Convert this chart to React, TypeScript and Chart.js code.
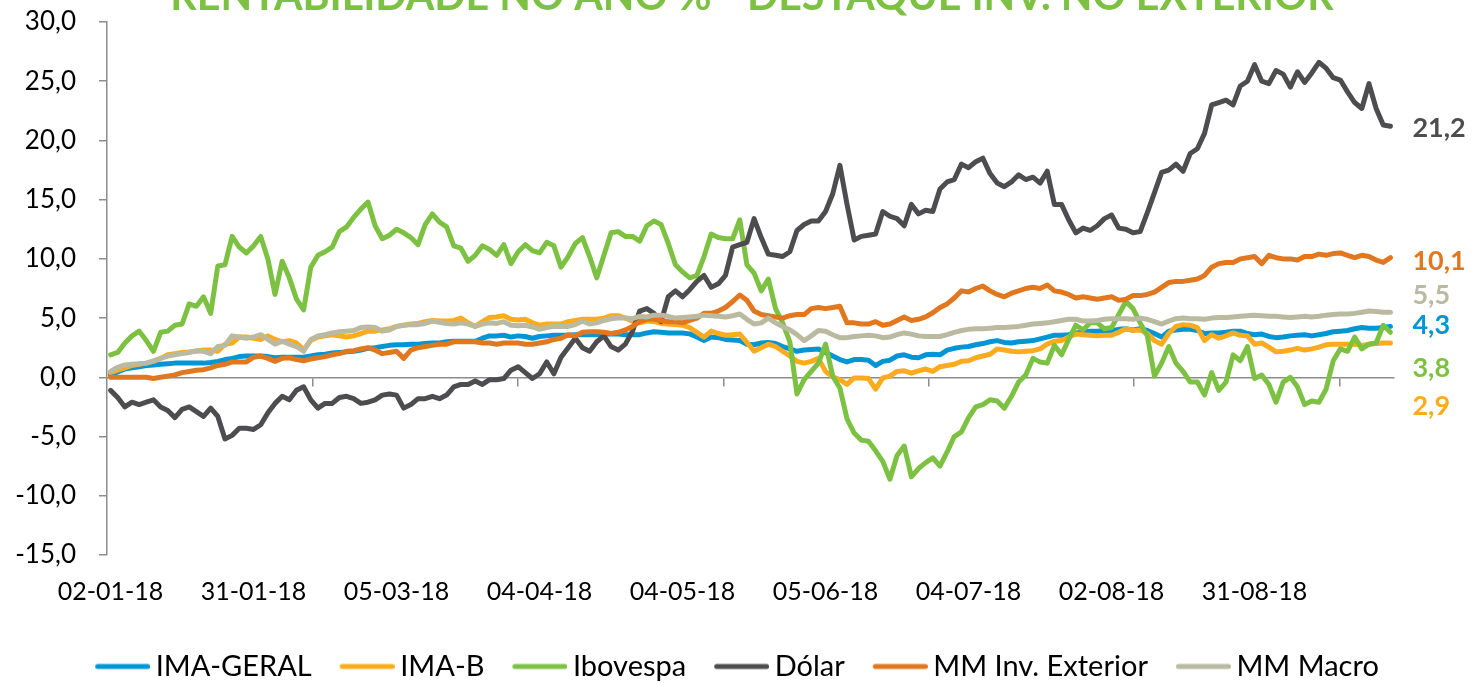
import React, { useEffect, useRef } from 'react';
import { Chart, registerables } from 'chart.js';

Chart.register(...registerables);

const titleText = 'RENTABILIDADE NO ANO % - DESTAQUE INV. NO EXTERIOR';
const seriesNames = ['IMA-GERAL', 'IMA-B', 'Ibovespa', 'Dólar', 'MM Inv. Exterior', 'MM Macro'];
const seriesColors = ['#0096D6', '#FCAB1F', '#7CC142', '#4D4D4F', '#E1771E', '#B9BAA0'];

const xTickLabels = ['02-01-18', '31-01-18', '05-03-18', '04-04-18', '04-05-18', '05-06-18', '04-07-18', '02-08-18', '31-08-18'];
const xTickIndex = [0, 20, 40, 60, 80, 100, 120, 140, 160];
const zeroAxisTicks = [28.23, 56.96, 85.69, 114.42, 143.15, 171.88];
// vertical anchor (in % units) of the end-of-series value labels
const endLabelAnchor = [4.4, -2.45, 0.75, 21.0, 9.8, 6.95];

const imaGeral = [
  0.2, 0.45, 0.7, 0.8, 0.9, 1.0, 1.05, 1.1, 1.15, 1.2,
  1.2, 1.2, 1.2, 1.2, 1.25, 1.35, 1.5, 1.6, 1.75, 1.8,
  1.8, 1.8, 1.75, 1.65, 1.7, 1.7, 1.7, 1.7, 1.8, 1.9,
  1.95, 2.05, 2.1, 2.15, 2.2, 2.3, 2.45, 2.5, 2.6, 2.7,
  2.75, 2.75, 2.8, 2.8, 2.85, 2.9, 2.9, 3.0, 3.05, 3.05,
  3.05, 3.05, 3.3, 3.5, 3.5, 3.55, 3.4, 3.5, 3.45, 3.3,
  3.45, 3.5, 3.55, 3.55, 3.55, 3.6, 3.6, 3.6, 3.6, 3.65,
  3.67, 3.65, 3.6, 3.6, 3.6, 3.75, 3.85, 3.8, 3.75, 3.75,
  3.75, 3.67, 3.4, 3.1, 3.4, 3.35, 3.2, 3.15, 3.1, 2.8,
  2.75, 2.9, 2.95, 2.85, 2.6, 2.4, 2.2, 2.3, 2.35, 2.4,
  2.1, 1.8, 1.5, 1.3, 1.5, 1.5, 1.45, 1.0, 1.35, 1.45,
  1.8, 1.9, 1.7, 1.65, 1.9, 1.95, 1.9, 2.3, 2.45, 2.55,
  2.6, 2.75, 2.85, 3.0, 3.1, 2.95, 2.9, 3.0, 3.05, 3.1,
  3.25, 3.4, 3.55, 3.55, 3.6, 3.75, 3.8, 3.9, 3.9, 3.95,
  3.95, 4.05, 4.1, 4.0, 4.1, 3.95, 3.7, 3.4, 3.9, 4.0,
  4.05, 4.05, 3.95, 3.7, 3.75, 3.75, 3.8, 3.9, 3.9, 3.7,
  3.6, 3.65, 3.45, 3.35, 3.4, 3.5, 3.55, 3.6, 3.5, 3.6,
  3.7, 3.85, 3.9, 3.95, 4.1, 4.2, 4.15, 4.15, 4.2, 4.3,
];

const imaB = [
  0.4, 0.6, 0.8, 1.0, 1.1, 1.2, 1.35, 1.6, 1.9, 2.0,
  2.1, 2.15, 2.2, 2.3, 2.3, 2.2, 2.8, 2.9, 3.4, 3.4,
  3.3, 3.2, 3.5, 3.2, 3.0, 3.1, 2.9, 2.35, 3.1, 3.4,
  3.5, 3.6, 3.5, 3.4, 3.5, 3.7, 3.9, 3.9, 4.0, 4.1,
  4.3, 4.4, 4.5, 4.55, 4.7, 4.8, 4.75, 4.75, 4.8, 5.0,
  4.6, 4.3, 4.7, 5.05, 5.1, 5.2, 4.9, 4.85, 4.9, 4.6,
  4.4, 4.5, 4.5, 4.5, 4.7, 4.8, 4.9, 4.9, 4.9, 5.0,
  5.2, 5.2, 5.0, 4.75, 4.6, 4.75, 4.7, 4.55, 4.5, 4.45,
  4.4, 4.2, 3.8, 3.4, 3.9, 3.7, 3.55, 3.6, 3.65, 2.95,
  2.2, 2.5, 2.8, 2.6, 2.2, 1.8, 1.35, 1.2, 1.35, 1.6,
  0.5, 0.05, -0.2, -0.6, -0.05, -0.05, -0.1, -1.0, -0.05, 0.1,
  0.5, 0.55, 0.35, 0.55, 0.7, 0.5, 0.9, 1.0, 1.1, 1.35,
  1.4, 1.65, 1.8, 1.95, 2.4, 2.3, 2.2, 2.15, 2.2, 2.25,
  2.4, 2.8, 3.05, 3.1, 3.4, 3.65, 3.6, 3.55, 3.5, 3.55,
  3.55, 3.8, 4.1, 3.95, 4.0, 3.7, 3.1, 2.8, 3.7, 4.3,
  4.45, 4.4, 4.2, 3.1, 3.6, 3.3, 3.5, 3.75, 3.55, 3.5,
  2.8, 2.9, 2.55, 2.15, 2.2, 2.3, 2.45, 2.3, 2.4, 2.55,
  2.75, 2.8, 2.8, 2.8, 2.8, 2.7, 2.8, 2.85, 2.9, 2.9,
];

const ibovespa = [
  1.9, 2.1, 2.9, 3.5, 3.9, 3.1, 2.2, 3.8, 3.9, 4.4,
  4.5, 6.2, 6.0, 6.8, 5.4, 9.4, 9.5, 11.9, 11.0, 10.5,
  11.1, 11.9, 10.0, 7.0, 9.8, 8.4, 6.6, 5.7, 9.3, 10.3,
  10.6, 11.0, 12.3, 12.7, 13.5, 14.2, 14.8, 12.8, 11.7, 12.0,
  12.5, 12.2, 11.8, 11.2, 12.9, 13.8, 13.1, 12.7, 11.1, 10.9,
  9.8, 10.3, 11.1, 10.8, 10.3, 11.2, 9.6, 10.6, 11.2, 10.7,
  10.5, 11.4, 11.1, 9.3, 10.2, 11.3, 11.8, 10.2, 8.4, 10.3,
  12.2, 12.3, 11.9, 11.9, 11.5, 12.8, 13.2, 12.9, 11.3, 9.5,
  8.9, 8.4, 8.6, 10.2, 12.1, 11.8, 11.7, 11.7, 13.3, 9.5,
  8.8, 7.3, 8.3, 5.8, 4.6, 3.0, -1.4, -0.2, 0.5, 1.2,
  2.8, 0.1, -0.9, -3.5, -4.7, -5.3, -5.4, -6.2, -7.1, -8.6,
  -6.6, -5.8, -8.4, -7.7, -7.2, -6.8, -7.5, -6.3, -5.0, -4.6,
  -3.4, -2.5, -2.3, -1.9, -2.0, -2.6, -1.6, -0.4, 0.2, 1.6,
  1.3, 1.2, 2.7, 1.9, 3.2, 4.4, 4.0, 4.6, 4.6, 4.1,
  4.2, 5.3, 6.4, 5.8, 4.6, 3.5, 0.1, 1.2, 2.6, 1.2,
  0.5, -0.4, -0.4, -1.5, 0.4, -1.1, -0.4, 1.9, 1.4, 2.6,
  -0.1, 0.2, -0.6, -2.1, -0.4, 0.0, -0.8, -2.3, -2.0, -2.1,
  -1.0, 1.4, 2.4, 2.2, 3.4, 2.4, 2.8, 2.9, 4.4, 3.8,
];

const dolar = [
  -1.1, -1.7, -2.5, -2.1, -2.3, -2.1, -1.9, -2.5, -2.8, -3.4,
  -2.7, -2.5, -2.9, -3.3, -2.6, -3.3, -5.2, -4.9, -4.3, -4.3,
  -4.4, -4.0, -3.0, -2.2, -1.6, -1.9, -1.1, -0.8, -1.9, -2.6,
  -2.2, -2.2, -1.7, -1.6, -1.8, -2.2, -2.1, -1.9, -1.5, -1.4,
  -1.5, -2.6, -2.3, -1.8, -1.8, -1.6, -1.8, -1.5, -0.8, -0.6,
  -0.6, -0.3, -0.6, -0.2, -0.2, -0.1, 0.6, 0.9, 0.4, -0.1,
  0.3, 1.3, 0.3, 1.7, 2.5, 3.3, 2.5, 2.2, 3.0, 3.5,
  2.6, 2.3, 2.8, 3.9, 5.6, 5.8, 5.4, 4.7, 6.8, 7.3,
  6.8, 7.4, 8.1, 8.6, 7.6, 7.9, 8.6, 11.0, 11.2, 11.4,
  13.4, 11.8, 10.4, 10.3, 10.2, 10.6, 12.4, 12.9, 13.2, 13.2,
  14.0, 15.5, 17.9, 14.6, 11.6, 11.9, 12.0, 12.1, 14.0, 13.6,
  13.4, 12.8, 14.6, 13.8, 14.1, 14.0, 15.9, 16.5, 16.7, 18.0,
  17.7, 18.2, 18.5, 17.2, 16.4, 16.1, 16.5, 17.1, 16.7, 16.9,
  16.4, 17.4, 14.6, 14.6, 13.3, 12.2, 12.6, 12.4, 12.8, 13.4,
  13.7, 12.6, 12.5, 12.2, 12.3, 13.9, 15.6, 17.3, 17.5, 18.0,
  17.4, 18.9, 19.3, 20.6, 23.0, 23.2, 23.4, 23.0, 24.6, 25.0,
  26.4, 25.0, 24.8, 25.9, 25.6, 24.5, 25.8, 24.9, 25.7, 26.6,
  26.1, 25.3, 25.1, 24.1, 23.2, 22.7, 24.8, 22.7, 21.3, 21.2,
];

const mmInvExterior = [
  0.0, 0.0, 0.0, 0.0, 0.0, 0.0, -0.1, 0.0, 0.1, 0.2,
  0.4, 0.5, 0.6, 0.65, 0.8, 1.0, 1.1, 1.3, 1.3, 1.3,
  1.7, 1.8, 1.6, 1.35, 1.6, 1.65, 1.5, 1.4, 1.55, 1.65,
  1.75, 1.9, 2.0, 2.2, 2.25, 2.4, 2.5, 2.3, 2.0, 2.1,
  2.2, 1.6, 2.3, 2.5, 2.6, 2.7, 2.8, 2.8, 3.0, 3.0,
  3.0, 3.0, 2.9, 2.9, 2.8, 2.9, 2.9, 2.9, 2.8, 2.8,
  2.9, 3.0, 3.2, 3.3, 3.6, 3.5, 3.8, 3.85, 3.85, 3.8,
  3.7, 3.8, 4.0, 4.3, 4.7, 4.9, 4.9, 4.8, 4.7, 4.7,
  4.6, 4.8, 5.0, 5.4, 5.4, 5.6, 5.9, 6.4, 6.95, 6.5,
  5.6, 5.3, 5.2, 5.1, 5.0, 5.2, 5.3, 5.3, 5.8, 5.9,
  5.8, 5.9, 6.0, 4.6, 4.6, 4.5, 4.5, 4.7, 4.4, 4.5,
  4.8, 5.1, 4.8, 4.9, 5.1, 5.45, 5.9, 6.2, 6.7, 7.3,
  7.2, 7.5, 7.7, 7.3, 7.0, 6.8, 7.1, 7.3, 7.5, 7.6,
  7.5, 7.8, 7.3, 7.2, 7.0, 6.7, 6.8, 6.7, 6.6, 6.7,
  6.8, 6.5, 6.6, 6.9, 6.9, 7.0, 7.2, 7.6, 8.0, 8.1,
  8.1, 8.2, 8.3, 8.6, 9.3, 9.6, 9.7, 9.7, 10.0, 10.1,
  10.2, 9.6, 10.3, 10.1, 10.0, 10.0, 9.9, 10.2, 10.2, 10.4,
  10.3, 10.45, 10.5, 10.3, 10.1, 10.3, 10.2, 9.9, 9.7, 10.1,
];

const mmMacro = [
  0.5, 0.85, 1.05, 1.1, 1.15, 1.2, 1.4, 1.6, 1.8, 1.9,
  2.0, 2.1, 2.25, 2.2, 2.0, 2.6, 2.7, 3.5, 3.4, 3.3,
  3.4, 3.6, 3.2, 2.8, 3.05, 2.8, 2.6, 2.2, 3.2, 3.5,
  3.6, 3.75, 3.85, 3.9, 3.95, 4.2, 4.25, 4.2, 3.9, 4.0,
  4.3, 4.4, 4.45, 4.45, 4.55, 4.75, 4.65, 4.55, 4.5, 4.6,
  4.5, 4.3, 4.5, 4.6, 4.55, 4.7, 4.4, 4.35, 4.4, 4.25,
  4.05, 4.2, 4.3, 4.3, 4.3, 4.45, 4.75, 4.5, 4.6, 4.8,
  4.95, 5.0, 5.0, 4.95, 5.15, 5.1, 5.25, 5.25, 5.15, 5.0,
  5.05, 5.1, 5.15, 5.25, 5.2, 5.15, 5.1, 5.2, 5.35, 4.9,
  4.5, 4.6, 5.0, 4.6, 4.3, 4.0, 3.6, 3.1, 3.5, 3.95,
  3.9, 3.6, 3.35, 3.35, 3.45, 3.5, 3.55, 3.5, 3.35, 3.4,
  3.6, 3.75, 3.65, 3.5, 3.45, 3.45, 3.45, 3.6, 3.8, 3.95,
  4.05, 4.1, 4.1, 4.15, 4.2, 4.2, 4.25, 4.3, 4.4, 4.5,
  4.55, 4.6, 4.7, 4.8, 4.9, 4.9, 4.75, 4.75, 4.8, 4.9,
  4.95, 4.95, 4.95, 4.9, 5.0, 4.9, 4.7, 4.5, 4.75, 4.95,
  5.0, 4.95, 4.95, 4.9, 5.0, 5.05, 5.05, 5.1, 5.15, 5.2,
  5.25, 5.2, 5.15, 5.15, 5.1, 5.05, 5.1, 5.15, 5.1, 5.15,
  5.25, 5.3, 5.35, 5.35, 5.4, 5.5, 5.6, 5.55, 5.5, 5.5,
];

const allSeries = [imaGeral, imaB, ibovespa, dolar, mmInvExterior, mmMacro];

const FONT = 'Lato';
const AXIS_GRAY = '#8C8C8C';
const fmt = (v: number) => v.toFixed(1).replace('.', ',');

// legend marker: a thick rounded line, drawn so it sits close to its text
function makeLegendMark(color: string): HTMLCanvasElement {
  const c = document.createElement('canvas');
  c.width = 64;
  c.height = 8;
  const g = c.getContext('2d')!;
  g.strokeStyle = color;
  g.lineWidth = 5;
  g.lineCap = 'round';
  g.beginPath();
  g.moveTo(11.5, 4);
  g.lineTo(61.5, 4);
  g.stroke();
  return c;
}

const overlayPlugin = {
  id: 'overlay',
  afterDraw(chart: any) {
    const { ctx, scales } = chart;
    const x = scales.x;
    const y = scales.y;
    ctx.save();
    // title (partly cut by the top edge, as in the reference)
    let size = 38;
    ctx.font = `bold ${size}px ${FONT}`;
    const w = ctx.measureText(titleText).width;
    size = (size * 1164) / w;
    ctx.font = `bold ${size}px ${FONT}`;
    ctx.fillStyle = seriesColors[2];
    ctx.textAlign = 'center';
    ctx.textBaseline = 'alphabetic';
    ctx.fillText(titleText, 752, 10);
    // end-of-series value labels
    ctx.font = `bold 27px ${FONT}`;
    ctx.textAlign = 'left';
    ctx.textBaseline = 'middle';
    chart.data.datasets.forEach((ds: any, k: number) => {
      const data = ds.data as number[];
      const last = data[data.length - 1];
      const px = x.getPixelForValue(data.length - 1) + 22;
      const py = y.getPixelForValue(endLabelAnchor[k]);
      ctx.fillStyle = seriesColors[k];
      ctx.fillText(fmt(last), px, py);
    });
    ctx.restore();
  },
};

export default function App() {
  const ref = useRef<HTMLCanvasElement>(null);
  useEffect(() => {
    const canvas = ref.current;
    if (!canvas) return;
    const n = imaGeral.length;
    const chart = new Chart(canvas, {
      type: 'line',
      data: {
        labels: imaGeral.map((_, i) => i),
        datasets: allSeries.map((d, k) => ({
          label: seriesNames[k],
          data: d,
          borderColor: seriesColors[k],
          backgroundColor: seriesColors[k],
          borderWidth: 5,
          pointRadius: 0,
          pointStyle: makeLegendMark(seriesColors[k]),
          tension: 0,
          fill: false,
          borderCapStyle: 'round',
          borderJoinStyle: 'round',
          order: allSeries.length - k,
        })),
      } as any,
      options: {
        responsive: false,
        devicePixelRatio: 1,
        animation: false,
        events: [],
        layout: { padding: { top: 22, right: 0, bottom: 0, left: 0 } },
        plugins: {
          title: { display: false },
          tooltip: { enabled: false },
          legend: {
            position: 'bottom',
            align: 'center',
            labels: {
              font: { family: FONT, size: 29 },
              color: '#000',
              usePointStyle: true,
              pointStyleWidth: 46,
              padding: 28,
              sort: (a: any, b: any) => a.datasetIndex - b.datasetIndex,
            },
          },
        },
        scales: {
          x: {
            type: 'linear',
            position: 'bottom',
            min: -0.5,
            max: n - 0.5,
            grid: { display: false },
            border: { display: false },
            afterBuildTicks: (s: any) => {
              s.ticks = xTickIndex.map((v) => ({ value: v }));
            },
            afterFit: (s: any) => {
              s.height = 69;
            },
            ticks: {
              autoSkip: false,
              maxRotation: 0,
              padding: 14,
              color: '#000',
              font: { family: FONT, size: 25 },
              callback: (v: any) => {
                const k = xTickIndex.indexOf(Number(v));
                return k >= 0 ? xTickLabels[k] : '';
              },
            },
          },
          xZero: {
            type: 'linear',
            axis: 'x',
            position: { y: 0 },
            min: -0.5,
            max: n - 0.5,
            afterBuildTicks: (s: any) => {
              s.ticks = zeroAxisTicks.map((v) => ({ value: v }));
            },
            grid: {
              display: true,
              drawOnChartArea: false,
              drawTicks: true,
              tickLength: 8,
              color: AXIS_GRAY,
              lineWidth: 1.5,
            },
            border: { display: true, color: AXIS_GRAY, width: 1.5 },
            ticks: { display: false },
          },
          y: {
            type: 'linear',
            position: 'left',
            min: -15,
            max: 30,
            afterFit: (s: any) => {
              s.width = 107;
              s.paddingTop = 15;
              s.paddingBottom = 15;
            },
            grid: {
              display: true,
              drawOnChartArea: false,
              drawTicks: true,
              tickLength: 8,
              color: AXIS_GRAY,
              lineWidth: 1.5,
            },
            border: { display: true, color: AXIS_GRAY, width: 1.5 },
            ticks: {
              stepSize: 5,
              padding: 23,
              color: '#000',
              font: { family: FONT, size: 26 },
              callback: (v: any) => fmt(Number(v)),
            },
          },
          yRight: {
            type: 'linear',
            position: 'right',
            min: -15,
            max: 30,
            grid: { display: false },
            border: { display: false },
            ticks: { display: false },
            afterFit: (s: any) => {
              s.width = 80;
              s.paddingTop = 0;
              s.paddingBottom = 0;
            },
          },
        },
      } as any,
      plugins: [overlayPlugin],
    });
    return () => chart.destroy();
  }, []);

  return (
    <div
      style={{
        position: 'fixed',
        left: 0,
        top: 0,
        width: 1474,
        height: 683,
        overflow: 'hidden',
        background: '#fff',
      }}
    >
      <canvas ref={ref} width={1474} height={691} style={{ display: 'block' }} />
    </div>
  );
}
